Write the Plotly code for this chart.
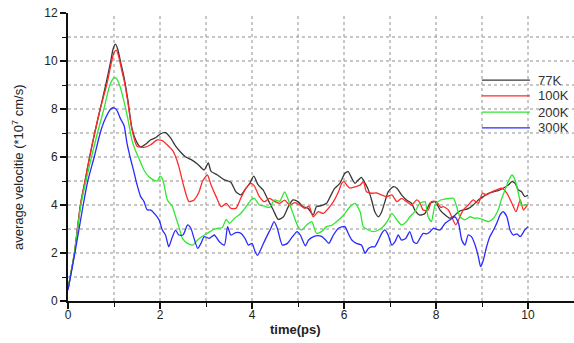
import plotly.graph_objects as go

# Average drift velocity (×10^7 cm/s) versus time (ps) at four lattice temperatures
t_77 = [0, 0.14, 0.27, 0.37, 0.47, 0.58, 0.70, 0.82, 0.93, 0.98, 1.03, 1.08, 1.15, 1.22, 1.3, 1.39, 1.5, 1.58,
        1.7, 1.79, 1.9, 2.01, 2.12, 2.23, 2.34, 2.45, 2.56, 2.67, 2.82, 2.96, 3.05, 3.11, 3.25, 3.40, 3.54, 3.65,
        3.76, 3.87, 3.95, 4.04, 4.13, 4.24, 4.35, 4.46, 4.57, 4.68, 4.79, 4.89, 5.0, 5.11, 5.22, 5.33, 5.4, 5.51,
        5.62, 5.7, 5.8, 5.91, 6.02, 6.09, 6.17, 6.24, 6.31, 6.38, 6.46, 6.53, 6.6, 6.67, 6.75, 6.82, 6.89, 6.96,
        7.07, 7.15, 7.25, 7.36, 7.47, 7.54, 7.65, 7.76, 7.87, 7.98, 8.09, 8.2, 8.3, 8.4, 8.49, 8.59, 8.7, 8.81,
        8.92, 9.03, 9.14, 9.25, 9.35, 9.46, 9.57, 9.65, 9.72, 9.79, 9.86, 9.93, 10.0]
v_77 = [0.5, 2.0, 4.0, 5.0, 6.0, 7.0, 8.0, 9.0, 10.0, 10.5, 10.7, 10.5, 9.9, 9.3, 8.4, 7.2, 6.6, 6.42,
        6.55, 6.71, 6.8, 6.96, 7.02, 6.8, 6.45, 6.2, 6.0, 5.9, 5.7, 5.46, 5.75, 5.4, 5.25, 5.05, 4.95, 4.55,
        4.42, 4.7, 4.9, 5.2, 4.85, 4.63, 4.21, 3.8, 3.4, 3.5, 3.93, 4.21, 4.14, 3.93, 3.86, 3.58, 3.93, 3.97,
        4.07, 4.35, 4.7, 4.9, 5.32, 5.39, 5.11, 4.9, 5.04, 5.15, 4.9, 4.63, 4.21, 3.72, 3.51, 3.72, 4.14, 4.55,
        4.76, 4.7, 4.42, 4.21, 4.07, 3.79, 3.58, 3.65, 4.07, 4.14, 3.79, 3.58, 3.45, 3.55, 3.72, 3.79, 3.85, 4.0,
        4.21, 4.35, 4.49, 4.55, 4.6, 4.7, 4.83, 4.97, 4.9, 4.63, 4.55, 4.35, 4.42]

t_100 = [0, 0.14, 0.27, 0.37, 0.47, 0.58, 0.70, 0.84, 0.95, 1.0, 1.05, 1.1, 1.17, 1.23, 1.3, 1.39, 1.5, 1.65,
         1.79, 1.94, 2.05, 2.16, 2.27, 2.34, 2.41, 2.52, 2.63, 2.74, 2.85, 2.92, 3.03, 3.11, 3.22, 3.33, 3.44,
         3.54, 3.65, 3.76, 3.87, 3.98, 4.05, 4.16, 4.27, 4.38, 4.49, 4.6, 4.71, 4.82, 4.93, 5.04, 5.15, 5.24,
         5.33, 5.44, 5.55, 5.66, 5.77, 5.88, 5.95, 6.0, 6.06, 6.13, 6.24, 6.35, 6.42, 6.49, 6.6, 6.71, 6.82,
         6.93, 7.04, 7.15, 7.25, 7.36, 7.47, 7.58, 7.65, 7.72, 7.83, 7.9, 8.01, 8.1, 8.16, 8.27, 8.34, 8.43,
         8.52, 8.59, 8.7, 8.81, 8.92, 9.01, 9.1, 9.21, 9.32, 9.43, 9.54, 9.65, 9.74, 9.83, 9.9, 9.95, 10.0]
v_100 = [0.5, 2.0, 4.0, 5.0, 6.0, 7.0, 8.0, 9.0, 10.0, 10.35, 10.45, 10.2, 9.6, 9.1, 8.3, 7.15, 6.45, 6.4,
         6.5, 6.71, 6.68, 6.5, 6.29, 6.01, 5.6, 4.76, 4.14, 4.21, 4.55, 4.97, 5.25, 4.83, 4.35, 3.93, 4.07,
         3.86, 3.86, 4.3, 4.7, 4.9, 4.8, 4.35, 4.14, 4.28, 4.15, 4.07, 4.2, 4.0, 4.1, 4.0, 3.86, 3.95,
         3.51, 3.72, 3.65, 3.86, 4.14, 4.55, 4.9, 4.97, 4.83, 4.7, 4.76, 4.83, 4.97, 4.55, 4.49, 4.5, 4.42,
         4.35, 4.42, 4.14, 4.28, 4.14, 4.0, 4.21, 4.1, 3.79, 3.79, 4.14, 4.14, 3.9, 3.93, 3.79, 3.51, 3.17,
         3.51, 3.79, 4.0, 4.21, 4.07, 4.49, 4.42, 4.55, 4.63, 4.7, 4.49, 4.07, 3.72, 4.21, 3.79, 3.9, 4.04]

t_200 = [0, 0.14, 0.28, 0.39, 0.51, 0.64, 0.78, 0.91, 1.0, 1.05, 1.12, 1.22, 1.3, 1.39, 1.46, 1.54, 1.65, 1.76,
         1.87, 1.94, 2.0, 2.05, 2.09, 2.16, 2.27, 2.34, 2.41, 2.49, 2.6, 2.71, 2.82, 2.92, 3.03, 3.14, 3.25,
         3.35, 3.44, 3.51, 3.62, 3.73, 3.8, 3.87, 3.98, 4.05, 4.16, 4.27, 4.38, 4.49, 4.6, 4.71, 4.79, 4.89,
         5.0, 5.08, 5.19, 5.3, 5.4, 5.51, 5.62, 5.73, 5.84, 5.95, 6.02, 6.13, 6.24, 6.35, 6.42, 6.53, 6.64,
         6.75, 6.85, 6.96, 7.04, 7.15, 7.25, 7.36, 7.43, 7.54, 7.65, 7.76, 7.83, 7.9, 7.98, 8.09, 8.2, 8.3,
         8.38, 8.45, 8.52, 8.63, 8.74, 8.83, 8.92, 9.03, 9.14, 9.25, 9.35, 9.43, 9.5, 9.57, 9.65, 9.72, 9.79,
         9.86, 9.93, 10.0]
v_200 = [0.5, 2.0, 4.0, 5.0, 6.0, 7.0, 8.0, 9.0, 9.3, 9.28, 9.0, 8.3, 7.6, 6.7, 6.3, 5.95, 5.46, 5.18,
         5.04, 5.0, 5.2, 5.1, 4.83, 4.21, 3.93, 3.51, 3.1, 2.6, 2.4, 2.33, 2.54, 2.7, 2.82, 2.96, 3.03,
         3.05, 3.4, 3.24, 3.45, 3.6, 3.75, 3.93, 4.21, 4.28, 4.0, 3.95, 3.9, 4.21, 4.15, 4.55, 4.21, 3.65,
         3.1, 2.96, 3.17, 3.31, 2.82, 2.89, 3.1, 3.15, 3.31, 3.5, 3.65, 3.93, 4.07, 3.72, 3.1, 2.96, 2.89,
         2.96, 3.1, 3.38, 3.65, 3.38, 3.17, 3.31, 3.51, 3.72, 4.07, 4.14, 3.51, 3.31, 4.0, 4.2, 4.25, 4.28,
         4.28, 3.93, 3.51, 3.38, 3.51, 3.45, 3.45, 3.38, 3.31, 3.45, 3.79, 4.28, 4.63, 4.97, 5.25, 5.04, 4.49,
         4.0, 4.0, 4.0]

t_300 = [0, 0.15, 0.33, 0.43, 0.57, 0.70, 0.8, 0.93, 1.0, 1.06, 1.14, 1.22, 1.28, 1.35, 1.43, 1.5, 1.58, 1.65,
         1.72, 1.8, 1.9, 1.98, 2.05, 2.12, 2.19, 2.27, 2.34, 2.41, 2.5, 2.6, 2.67, 2.74, 2.82, 2.89, 2.96,
         3.07, 3.18, 3.29, 3.4, 3.47, 3.54, 3.65, 3.76, 3.85, 3.92, 4.0, 4.07, 4.12, 4.2, 4.3, 4.41, 4.48,
         4.55, 4.66, 4.77, 4.88, 4.98, 5.05, 5.16, 5.23, 5.34, 5.43, 5.52, 5.6, 5.67, 5.77, 5.88, 6.02, 6.09,
         6.17, 6.27, 6.38, 6.46, 6.53, 6.6, 6.67, 6.75, 6.82, 6.89, 6.96, 7.04, 7.11, 7.18, 7.25, 7.34, 7.43,
         7.51, 7.58, 7.65, 7.72, 7.8, 7.87, 7.94, 8.0, 8.09, 8.2, 8.3, 8.41, 8.49, 8.56, 8.63, 8.7, 8.77,
         8.85, 8.92, 8.97, 9.03, 9.1, 9.17, 9.25, 9.32, 9.39, 9.46, 9.54, 9.61, 9.68, 9.76, 9.83, 9.93, 10.0]
v_300 = [0.45, 2.0, 4.0, 5.0, 6.0, 7.0, 7.55, 8.0, 8.05, 7.95, 7.6, 7.3, 6.6, 6.0, 5.4, 4.85, 4.35, 4.15,
         3.8, 3.79, 3.6, 3.38, 2.96, 2.75, 2.26, 2.68, 2.95, 2.75, 2.75, 3.17, 3.03, 2.61, 2.19, 2.4, 2.68,
         2.61, 2.75, 2.47, 2.33, 3.1, 2.75, 2.85, 2.82, 2.6, 2.33, 2.4, 2.05, 1.9, 2.19, 2.61, 3.03, 3.31,
         3.03, 2.33, 2.4, 2.68, 2.89, 2.75, 2.3, 2.54, 2.68, 2.72, 2.68, 2.54, 2.4, 2.75, 3.03, 3.1, 2.82,
         2.54, 2.4, 2.33, 1.99, 2.19, 2.26, 2.26, 2.54, 2.82, 2.96, 2.75, 2.33, 2.47, 2.75, 2.54, 2.6, 2.89,
         2.47, 2.4, 2.61, 2.82, 2.8, 2.89, 3.03, 3.0, 2.96, 3.24, 3.38, 3.51, 3.24, 2.54, 2.33, 2.75, 2.68,
         2.33, 1.85, 1.43, 1.71, 2.26, 2.68, 2.96, 3.24, 3.58, 3.72, 3.51, 2.96, 2.75, 2.8, 2.68, 2.96, 3.1]

series_names = ["77K", "100K", "200K", "300K"]
series_colors = ["#383838", "#ff2a2a", "#2ee82e", "#2a2aff"]
series_t = [t_77, t_100, t_200, t_300]
series_v = [v_77, v_100, v_200, v_300]

x_ticks = [0, 2, 4, 6, 8, 10]
y_ticks = [0, 2, 4, 6, 8, 10, 12]
x_grid = [1, 2, 3, 4, 5, 6, 7, 8, 9, 10]
y_grid = [1, 2, 3, 4, 5, 6, 7, 8, 9, 10, 11]

fig = go.Figure()
for name, color, tt, vv in zip(series_names, series_colors, series_t, series_v):
    fig.add_trace(go.Scatter(x=tt, y=vv, mode="lines", name=name,
                             line=dict(color=color, width=1.3, shape="spline", smoothing=0.6),
                             showlegend=False))

grid_style = dict(color="#8f8f8f", width=1, dash="dot")
shapes = []
for gx in x_grid:
    shapes.append(dict(type="line", xref="x", yref="paper", x0=gx, x1=gx, y0=0, y1=1,
                       line=grid_style, layer="below"))
for gy in y_grid:
    shapes.append(dict(type="line", xref="paper", yref="y", x0=0, x1=1, y0=gy, y1=gy,
                       line=grid_style, layer="below"))

# Legend block: short line samples with labels at the upper right
annotations = []
leg_x0, leg_x1, leg_tx = 0.818, 0.913, 0.925
leg_y = [0.767, 0.712, 0.656, 0.601]
for name, color, ly in zip(series_names, series_colors, leg_y):
    shapes.append(dict(type="line", xref="paper", yref="paper", x0=leg_x0, x1=leg_x1, y0=ly, y1=ly,
                       line=dict(color=color, width=1.3)))
    annotations.append(dict(xref="paper", yref="paper", x=leg_tx, y=ly, text=name, showarrow=False,
                            xanchor="left", yanchor="middle",
                            font=dict(family="Liberation Sans, Arial", size=13, color="#333333")))

annotations.append(dict(xref="paper", yref="paper", x=-0.099, y=0.465,
                        text="average velocitie (*10<sup>7</sup> cm/s)", textangle=-90, showarrow=False,
                        xanchor="center", yanchor="middle",
                        font=dict(family="Liberation Sans, Arial", size=13, color="#222222")))
annotations.append(dict(xref="paper", yref="paper", x=0.45, y=-0.1, text="<b>time(ps)</b>",
                        showarrow=False, xanchor="center", yanchor="middle",
                        font=dict(family="Liberation Sans, Arial", size=13, color="#222222")))

axis_font = dict(family="Liberation Sans, Arial", size=12, color="#222222")
fig.update_layout(
    width=574, height=343,
    margin=dict(l=68, r=0, t=13, b=42),
    paper_bgcolor="white", plot_bgcolor="white",
    shapes=shapes, annotations=annotations,
    xaxis=dict(range=[0, 11], tickvals=x_ticks, ticks="outside", ticklen=6, tickwidth=1.5,
               tickcolor="#111111", showline=True, linecolor="#111111", linewidth=2,
               showgrid=False, zeroline=False, tickfont=axis_font, ticklabelstandoff=-4,
               minor=dict(dtick=1, ticks="outside", ticklen=4, tickwidth=1.2, tickcolor="#111111",
                          showgrid=False)),
    yaxis=dict(range=[0, 12], tickvals=y_ticks, ticks="outside", ticklen=6, tickwidth=1.5,
               tickcolor="#111111", showline=True, linecolor="#111111", linewidth=2,
               showgrid=False, zeroline=False, tickfont=axis_font,
               minor=dict(dtick=1, ticks="outside", ticklen=4, tickwidth=1.2, tickcolor="#111111",
                          showgrid=False)),
)

fig.write_html("out.html")
